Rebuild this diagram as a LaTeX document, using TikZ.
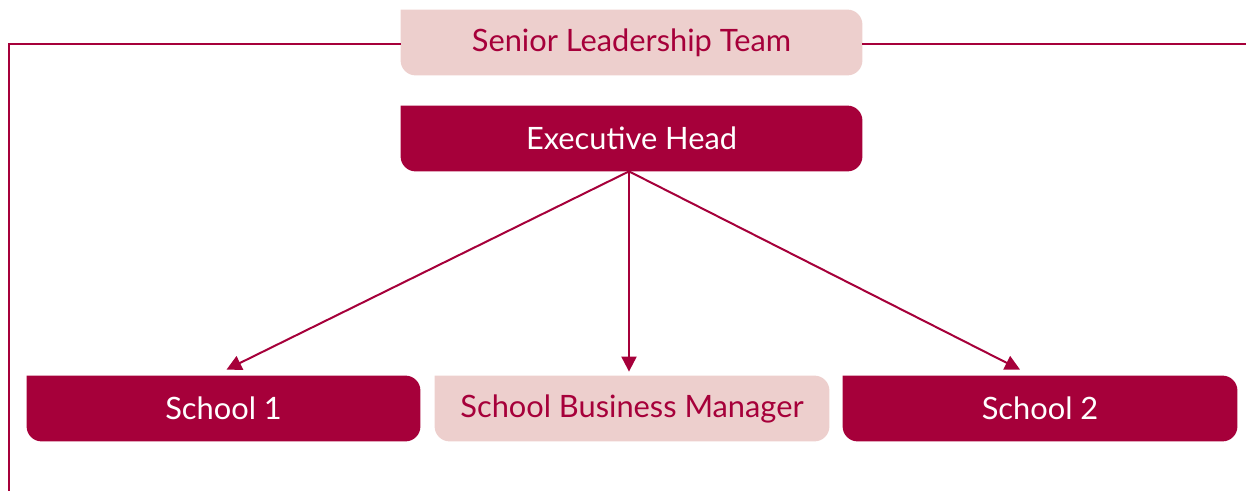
\documentclass[tikz,border=0pt]{standalone}
\usepackage{fontspec}
\setmainfont{Lato}
\usetikzlibrary{arrows.meta,backgrounds}
\definecolor{crimson}{RGB}{166,0,58}
\definecolor{blush}{RGB}{237,207,205}
\tikzset{
    orgbox/.style={minimum height=32.5pt, inner sep=0pt, font=\fontsize{15.4}{18}\selectfont},
    darkbox/.style={orgbox, text=white},
    lightbox/.style={orgbox, text=crimson},
    reports/.style={draw=crimson, line width=1pt, -{Triangle[length=7.5pt,width=7.5pt]}},
    frame/.style={draw=crimson, line width=0.75pt}
}

\begin{document}
\begin{tikzpicture}[x=1pt, y=1pt]
    \useasboundingbox (0,0) rectangle (623,-245.5);

    \node[lightbox, minimum width=230.5pt] (slt) at (315.75,-21.25) {Senior Leadership Team};
    \node[darkbox, minimum width=230.5pt] (exec) at (315.75,-69.25) {Executive Head};

    \node[darkbox, minimum width=196.5pt] (school1) at (111.75,-204.25) {School 1};
    \node[lightbox, minimum width=197pt] (sbm) at (316,-204.25) {School Business Manager};
    \node[darkbox, minimum width=197pt] (school2) at (520,-204.25) {School 2};

    % box fills: square top left, the other corners rounded
    \begin{scope}[on background layer, rounded corners=7.5pt]
        \foreach \n/\c in {slt/blush, exec/crimson, school1/crimson, sbm/blush, school2/crimson}
            \fill[\c] (\n.north west) -- (\n.north east) -- (\n.south east) -- (\n.south west) -- (\n.north west);
    \end{scope}

    % frame line
    \coordinate (framecorner) at (4.5,-22);
    \coordinate (framebottom) at (4.5,-245.5);
    \coordinate (frameend) at (623,-22);
    \draw[frame] (slt.west |- framecorner) -- (framecorner) -- (framebottom);
    \draw[frame] (slt.east |- frameend) -- (frameend);

    % reporting lines
    \coordinate (fork) at ([xshift=-1.25pt]exec.south);
    \draw[reports] (fork) -- ([xshift=1.5pt, yshift=3pt]school1.north);
    \draw[reports] (fork) -- ([xshift=-1.5pt, yshift=2pt]sbm.north);
    \draw[reports] (fork) -- ([xshift=-10pt, yshift=3pt]school2.north);
\end{tikzpicture}
\end{document}
